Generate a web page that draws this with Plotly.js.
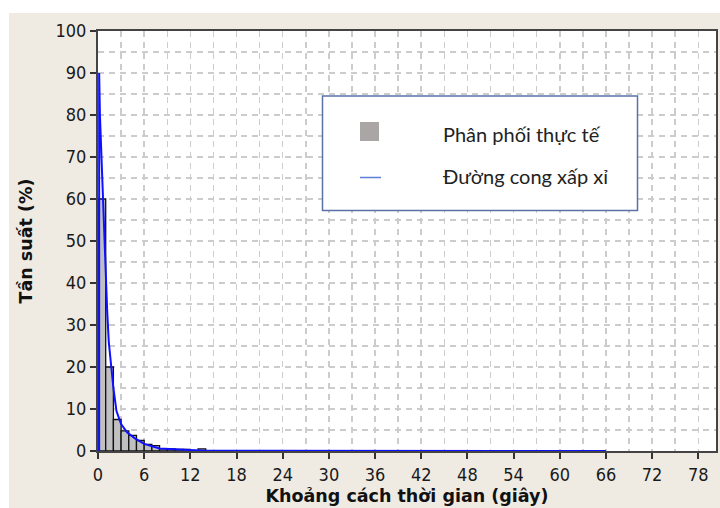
<!DOCTYPE html>
<html><head><meta charset="utf-8">
<script src="https://cdn.plot.ly/plotly-3.0.1.min.js"></script>
<style>html,body{margin:0;padding:0;background:#fff}#chart{width:720px;height:508px}</style>
</head><body><div id="chart"></div>
<script>
// Histogram (bin centers, width 1 s)
const binCenters = [0.5,1.5,2.5,3.5,4.5,5.5,6.5,7.5,8.5,9.5,10.5,11.5,12.5,13.5];
const binFreq    = [60, 20, 7.5, 4.8, 3.7, 2.5, 1.6, 1.3, 0.5, 0.5, 0.4, 0.4, 0, 0.5];
// Fitted curve
const curveX = [0.15,0.15,0.25,0.4,0.6,0.8,1.0,1.2,1.4,1.6,2.0,2.4,3.0,3.8,4.8,6.0,8.0,10,12,14,66];
const curveY = [0,   90,  80,  72, 62, 54, 45, 33, 26, 22, 15, 9.5,6.4,4.4,3.0,1.7,0.6,0.4,0.2,0.05,0];
const xTicks = [0,6,12,18,24,30,36,42,48,54,60,66,72,78];
const yTicks = [0,10,20,30,40,50,60,70,80,90,100];
const seriesNames = ["Phân phối thực tế", "Đường cong xấp xỉ"];
const xTitle = "Khoảng cách thời gian (giây)";
const yTitle = "Tần suất (%)";

const tickFont = {family:"DejaVu Sans Condensed, DejaVu Sans", size:18, color:"#1a1a1a"};
const titleFont = {family:"DejaVu Sans", size:17.5, color:"#111"};
const gridCol = "#cccccc";

// plot-area geometry helpers (paper fractions from pixel positions)
const L=98, R=716, T=31, B=451;
const px = v => (v-L)/(R-L);
const py = v => (B-v)/(B-T);

const traces = [
  {type:"bar", x:binCenters, y:binFreq, width:1, name:seriesNames[0],
   marker:{color:"#c0c0c0", line:{color:"#111", width:1.3}}, hoverinfo:"skip"},
  {type:"scatter", mode:"lines", x:curveX, y:curveY, name:seriesNames[1],
   line:{color:"#1010ff", width:2}, cliponaxis:false, hoverinfo:"skip"}
];

const legFont = {family:"Lato", size:20, color:"#222"};

const layout = {
  width:720, height:508,
  margin:{l:L, r:720-R, t:T, b:508-B},
  paper_bgcolor:"#efebe3", plot_bgcolor:"#ffffff",
  showlegend:false,
  bargap:0,
  xaxis:{range:[0,80.3], tickvals:xTicks, ticks:"outside", ticklen:6, tickwidth:2, tickcolor:"#333",
         tickfont:tickFont, showline:true, mirror:true, linecolor:"#444", linewidth:2,
         showgrid:true, gridcolor:gridCol, griddash:"6px,5px", gridwidth:1.5, zeroline:false,
         minor:{dtick:3, tick0:0, showgrid:true, gridcolor:gridCol, griddash:"6px,5px", gridwidth:1.5},
         title:{text:"<b>"+xTitle+"</b>", font:titleFont, standoff:6}},
  yaxis:{range:[0,100], tickvals:yTicks, ticks:"outside", ticklen:6, tickwidth:2, tickcolor:"#333",
         tickfont:tickFont, showline:true, mirror:true, linecolor:"#444", linewidth:2,
         showgrid:true, gridcolor:gridCol, griddash:"6px,5px", gridwidth:1.5, zeroline:false,
         minor:{dtick:5, tick0:0, showgrid:true, gridcolor:gridCol, griddash:"6px,5px", gridwidth:1.5},
         title:{text:"<b>"+yTitle+"</b>", font:titleFont, standoff:18}},
  shapes:[
    {type:"rect", xref:"paper", yref:"paper", x0:px(-10), x1:px(730), y0:py(13), y1:py(-10), fillcolor:"#ffffff", line:{width:0}, layer:"below"},
    {type:"rect", xref:"paper", yref:"paper", x0:px(-10), x1:px(9), y0:py(520), y1:py(-10), fillcolor:"#ffffff", line:{width:0}, layer:"below"},
    {type:"rect", xref:"paper", yref:"paper", x0:px(322.5), x1:px(637.5), y0:py(210.5), y1:py(96),
     fillcolor:"#ffffff", line:{color:"#5a72a8", width:1.5}, layer:"above"},
    {type:"rect", xref:"paper", yref:"paper", x0:px(360), x1:px(379), y0:py(141), y1:py(122),
     fillcolor:"#aaa6a6", line:{width:0}, layer:"above"},
    {type:"line", xref:"paper", yref:"paper", x0:px(360), x1:px(381), y0:py(177.5), y1:py(177.5),
     line:{color:"#5b7fd8", width:1.5}, layer:"above"}
  ],
  annotations:[
    {xref:"paper", yref:"paper", x:px(441), y:py(134), xanchor:"left", yanchor:"middle", showarrow:false,
     text:seriesNames[0], font:legFont},
    {xref:"paper", yref:"paper", x:px(441), y:py(176), xanchor:"left", yanchor:"middle", showarrow:false,
     text:seriesNames[1], font:legFont}
  ]
};
Plotly.newPlot("chart", traces, layout, {staticPlot:true});
</script></body></html>
